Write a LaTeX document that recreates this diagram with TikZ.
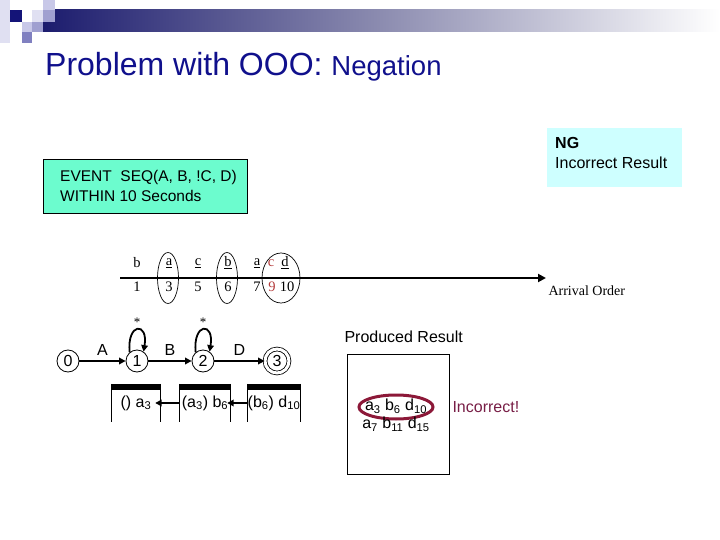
\documentclass[tikz,border=0pt]{standalone}
\usepackage{fontspec}
\setmainfont{Liberation Sans}
\newfontfamily\tnr{Liberation Serif}
\usetikzlibrary{arrows.meta,shapes.geometric}
\definecolor{titleblue}{RGB}{16,16,140}
\definecolor{bannerdark}{RGB}{28,28,110}
\definecolor{bannermid}{RGB}{140,140,176}
\definecolor{sqdark}{RGB}{20,20,120}
\definecolor{sqlight}{RGB}{224,224,242}
\definecolor{sqlight2}{RGB}{200,200,232}
\definecolor{sqmed}{RGB}{160,160,208}
\definecolor{sqmed2}{RGB}{128,128,192}
\definecolor{evgreen}{RGB}{108,252,206}
\definecolor{ngcyan}{RGB}{206,255,255}
\definecolor{redletter}{RGB}{180,60,60}
\definecolor{maroon}{RGB}{140,24,56}
\definecolor{incred}{RGB}{120,30,70}
\tikzset{
  base/.style={font=\fontsize{16}{19}\selectfont},
  tl/.style={font=\tnr\fontsize{14.5}{16}\selectfont, inner sep=1pt},
  sel/.style={draw, ellipse, line width=0.7pt, inner sep=0pt},
  state/.style={draw, circle, minimum size=22pt, inner sep=0pt, line width=0.8pt},
  tr/.style={line width=1.8pt, -{Triangle[length=6.5pt,width=6.5pt]}},
  stackbox/.style={minimum width=48pt, minimum height=38pt, inner sep=0pt},
}
\begin{document}
\begin{tikzpicture}[x=1pt,y=-1pt, base]
\useasboundingbox (0,0) rectangle (720,540);
% banner
\shade[left color=bannerdark, right color=white, middle color=bannermid] (43,10) rectangle (720,32);
\fill[sqlight] (0,0) rectangle (10,43);
\fill[sqdark] (10,10) rectangle (22,22);
\fill[sqlight2] (43,0) rectangle (55,10);
\fill[sqlight] (32,10) rectangle (43,22);
\fill[sqmed] (43,10) rectangle (55,22);
\fill[sqlight2] (22,22) rectangle (32,32);
\fill[sqmed] (32,22) rectangle (43,32);
\fill[sqmed2] (22,32) rectangle (32,43);
% title
\node[anchor=base west, inner sep=0pt, text=titleblue] (title) at (45,76)
  {\fontsize{32}{36}\selectfont Problem with OOO: \fontsize{27.5}{30}\selectfont Negation};
% query box
\node[draw, line width=0.8pt, fill=evgreen, minimum width=204pt, minimum height=54pt,
      anchor=north west] (ev) at (43,159) {};
\node[anchor=west, align=left, inner sep=0pt, font=\fontsize{15.5}{20}\selectfont] (evt) at (60,186)
  {EVENT\ \ SEQ(A, B, !C, D)\\WITHIN\ 10 Seconds};
% NG box
\node[fill=ngcyan, minimum width=135pt, minimum height=59pt, anchor=north west] (ng) at (547,128) {};
\node[anchor=west, align=left, inner sep=0pt, font=\fontsize{16}{20}\selectfont] (ngt) at (555,153)
  {\textbf{NG}\\Incorrect Result};
% timeline
\coordinate (t0) at (120,278);
\coordinate (t1) at (546,278);
\draw[line width=2.5pt, -{Triangle[length=8pt,width=8pt]}] (t0) -- (t1);
\node[anchor=west, font=\tnr\fontsize{14}{16}\selectfont] (ao) at (545,291) {Arrival Order};
\node[tl] (l1) at (137,263) {b};
\node[tl] (l2) at (169,263) {\underline{a}};
\node[tl] (l3) at (198,263) {\underline{c}};
\node[tl] (l4) at (228,263) {\underline{b}};
\node[tl] (l5) at (257,263) {\underline{a}};
\node[tl, text=redletter] (l6) at (271,263) {c};
\node[tl] (l7) at (285,263) {\underline{d}};
\node[tl] (n1) at (137,287) {1};
\node[tl] (n2) at (169,287) {3};
\node[tl] (n3) at (198,287) {5};
\node[tl] (n4) at (228,287) {6};
\node[tl] (n5) at (257,287) {7};
\node[tl, text=redletter] (n6) at (272,287) {9};
\node[tl] (n7) at (287,287) {10};
\node[sel, minimum width=21pt, minimum height=51pt] (e1) at (168,278) {};
\node[sel, minimum width=21pt, minimum height=51pt] (e2) at (227,278) {};
\node[sel, minimum width=38pt, minimum height=50pt] (e3) at (281,278) {};
% automaton
\node[state] (s0) at (68,361) {0};
\node[state] (s1) at (137,361) {1};
\node[state] (s2) at (203,361) {2};
\node[state, minimum size=24pt, double, double distance=3pt] (s3) at (277,361) {3};
\draw[tr] (s0) -- node[above=1pt] (la) {A} (s1);
\draw[tr] (s1) -- node[above=1pt] (lb) {B} (s2);
\draw[tr] (s2) -- node[above=1pt] (ld) {D} (s3);
\draw[tr] (s1.130) .. controls +(-3,-30) and +(5,-30) .. (s1.55);
\draw[tr] (s2.130) .. controls +(-3,-30) and +(5,-30) .. (s2.55);
\node[font=\tnr\fontsize{13}{14}\selectfont] (st1) at (137,322) {*};
\node[font=\tnr\fontsize{13}{14}\selectfont] (st2) at (203,322) {*};
% stacks
\node[stackbox] (b1) at (136,403) {() a\textsubscript{3}};
\node[stackbox, minimum width=50pt] (b2) at (205,403) {(a\textsubscript{3}) b\textsubscript{6}};
\node[stackbox, minimum width=52pt] (b3) at (274,403) {(b\textsubscript{6}) d\textsubscript{10}};
\foreach \b in {b1,b2,b3}{
  \fill (\b.north west) rectangle ([yshift=-6pt]\b.north east);
  \draw[line width=0.8pt] (\b.north west) -- (\b.south west);
  \draw[line width=0.8pt] (\b.north east) -- (\b.south east);
}
\draw[tr] (b2.west) -- ([xshift=-5pt]b1.east);
\draw[tr] (b3.west) -- ([xshift=-3pt]b2.east);
% produced result
\node[anchor=west] (pr) at (341,337) {Produced Result};
\node[draw, line width=1pt, minimum width=102pt, minimum height=120pt] (rb) at (398,414) {};
\node[draw=maroon, ellipse, line width=3pt, minimum width=74pt, minimum height=24pt] (re) at (396,407) {};
\node (r1) at (396,406) {a\textsubscript{3} b\textsubscript{6} d\textsubscript{10}};
\node (r2) at (396,424) {a\textsubscript{7} b\textsubscript{11} d\textsubscript{15}};
\node[anchor=west, text=incred] (inc) at (449,407) {Incorrect!};
\end{tikzpicture}
\end{document}
